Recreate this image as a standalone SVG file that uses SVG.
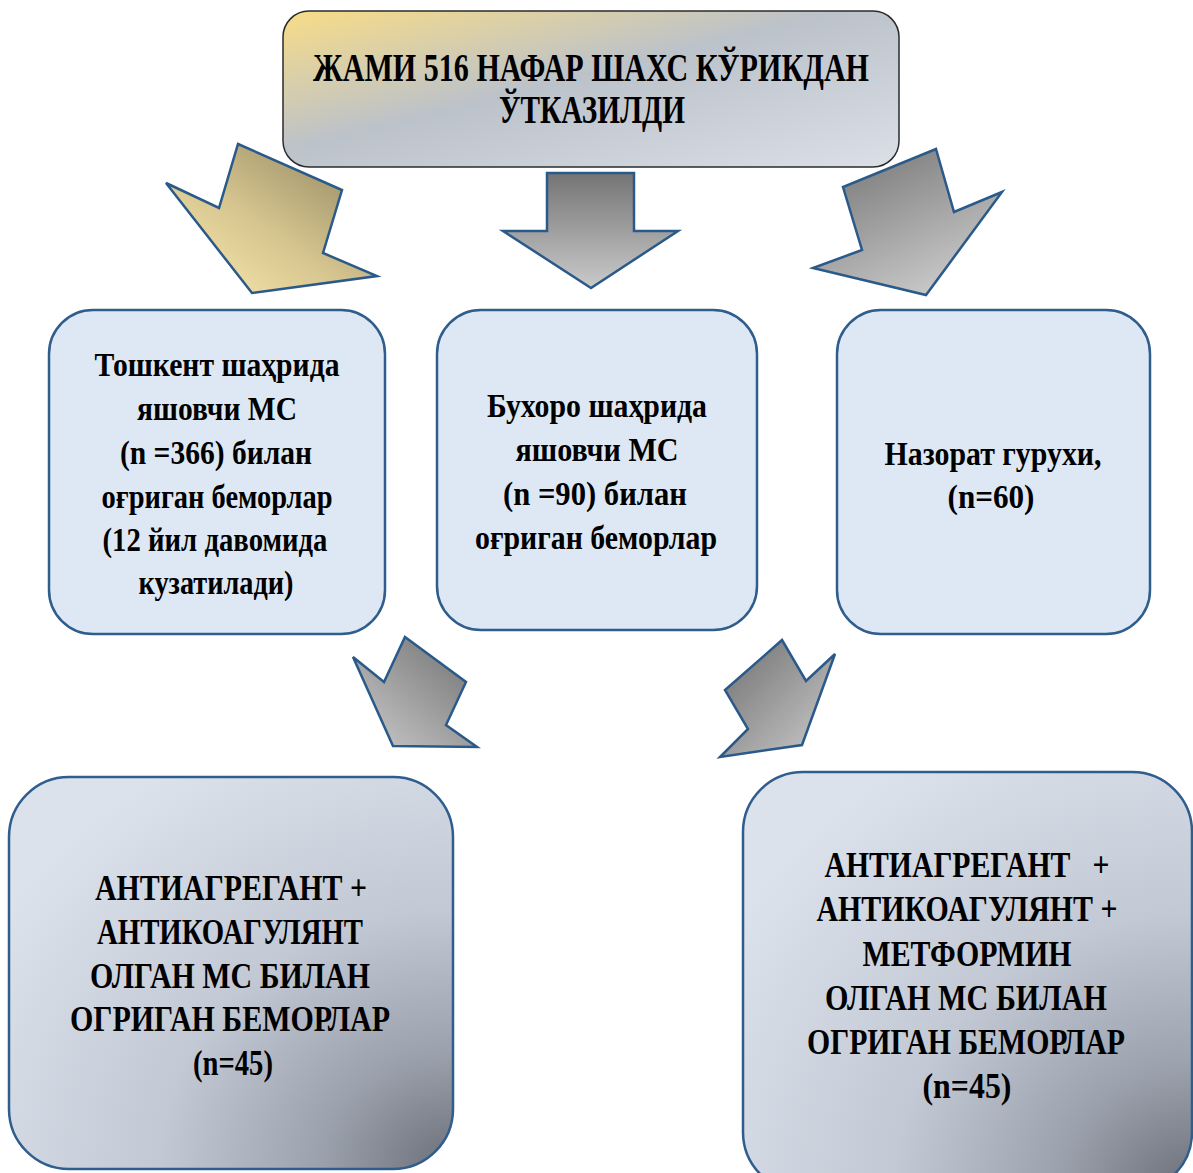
<svg xmlns="http://www.w3.org/2000/svg" width="1193" height="1173" viewBox="0 0 1193 1173">
<defs>
<linearGradient id="gTop" x1="0" y1="0" x2="1" y2="1">
<stop offset="0" stop-color="#f8dc86"/>
<stop offset="0.45" stop-color="#bcc2ca"/>
<stop offset="1" stop-color="#dbe0e8"/>
</linearGradient>
<radialGradient id="gBot" cx="1" cy="1" r="1.2" fx="1" fy="1">
<stop offset="0" stop-color="#6a6f78"/>
<stop offset="0.25" stop-color="#9ca2ad"/>
<stop offset="0.55" stop-color="#c2c9d4"/>
<stop offset="1" stop-color="#dbe2ec"/>
</radialGradient>
<linearGradient id="gYel" x1="1" y1="0" x2="0" y2="1">
<stop offset="0" stop-color="#8a7f5c"/>
<stop offset="0.55" stop-color="#d6c58f"/>
<stop offset="1" stop-color="#fdedb0"/>
</linearGradient>
<linearGradient id="gDown" x1="0" y1="0" x2="0" y2="1">
<stop offset="0" stop-color="#747474"/>
<stop offset="1" stop-color="#cacaca"/>
</linearGradient>
<linearGradient id="gR" x1="0" y1="0" x2="0.6" y2="1">
<stop offset="0" stop-color="#707070"/>
<stop offset="1" stop-color="#c8c8c8"/>
</linearGradient>
<linearGradient id="gBL" x1="1" y1="0" x2="0" y2="1">
<stop offset="0" stop-color="#6e6e6e"/>
<stop offset="1" stop-color="#cccccc"/>
</linearGradient>
<linearGradient id="gBR" x1="0" y1="0" x2="1" y2="1">
<stop offset="0" stop-color="#6e6e6e"/>
<stop offset="1" stop-color="#cccccc"/>
</linearGradient>
<style>
.t{font-family:"Liberation Serif","Times New Roman",serif;font-weight:bold;fill:#000;text-anchor:middle}
.mid{fill:#dde8f4;stroke:#2f5d8c;stroke-width:2.5}
.bot{fill:url(#gBot);stroke:#2f5d8c;stroke-width:2.5}
.arr{stroke:#2a5a8a;stroke-width:2.5;stroke-linejoin:miter}
</style>
</defs>
<rect width="1193" height="1173" fill="#fff"/>

<g id="connectors">
<polygon class="arr" fill="url(#gYel)" points="238,144 342,190 323,253 377,276 252,293 166,183 219,208"/>
<polygon class="arr" fill="url(#gDown)" points="547,173 634,173 634,231 678,231 591,288 503,231 547,231"/>
<polygon class="arr" fill="url(#gR)" points="936,149 954,212 1002,192 926,295 813,268 862,250 843,187"/>
<polygon class="arr" fill="url(#gBL)" points="405,637 466,682 446,725 477,747 393,746 353,657 384,682"/>
<polygon class="arr" fill="url(#gBR)" points="782,640 806,681 835,654 802,745 720,757 748,729 725,690"/>
</g>

<g id="node-top">
<rect x="283" y="11" width="616" height="156" rx="26" fill="url(#gTop)" stroke="#2b2b2b" stroke-width="1.5"/>
<text class="t" font-size="39" x="591" y="81" textLength="556" lengthAdjust="spacingAndGlyphs">ЖАМИ 516 НАФАР ШАХС КЎРИКДАН</text>
<text class="t" font-size="39" x="592" y="123" textLength="186" lengthAdjust="spacingAndGlyphs">ЎТКАЗИЛДИ</text>
</g>

<g id="node-tashkent">
<rect class="mid" x="49" y="310" width="336" height="324" rx="44"/>
<g class="t" font-size="34">
<text x="217" y="376" textLength="245" lengthAdjust="spacingAndGlyphs">Тошкент шаҳрида</text>
<text x="217" y="420" textLength="160" lengthAdjust="spacingAndGlyphs">яшовчи МС</text>
<text x="216" y="464" textLength="192" lengthAdjust="spacingAndGlyphs">(n =366) билан</text>
<text x="217" y="508" textLength="231" lengthAdjust="spacingAndGlyphs">оғриган беморлар</text>
<text x="215" y="551" textLength="225" lengthAdjust="spacingAndGlyphs">(12 йил давомида</text>
<text x="216" y="594" textLength="155" lengthAdjust="spacingAndGlyphs">кузатилади)</text>
</g>
</g>

<g id="node-bukhara">
<rect class="mid" x="437" y="310" width="320" height="320" rx="44"/>
<g class="t" font-size="34">
<text x="597" y="417" textLength="220" lengthAdjust="spacingAndGlyphs">Бухоро шаҳрида</text>
<text x="597" y="461" textLength="163" lengthAdjust="spacingAndGlyphs">яшовчи МС</text>
<text x="595" y="505" textLength="184" lengthAdjust="spacingAndGlyphs">(n =90) билан</text>
<text x="596" y="549" textLength="242" lengthAdjust="spacingAndGlyphs">оғриган беморлар</text>
</g>
</g>

<g id="node-control">
<rect class="mid" x="837" y="310" width="313" height="324" rx="44"/>
<g class="t" font-size="34">
<text x="993" y="465" textLength="217" lengthAdjust="spacingAndGlyphs">Назорат гурухи,</text>
<text x="991" y="508" textLength="87" lengthAdjust="spacingAndGlyphs">(n=60)</text>
</g>
</g>

<g id="node-bottom-left">
<rect class="bot" x="9" y="777" width="444" height="392" rx="60"/>
<g class="t" font-size="35">
<text x="231" y="900" textLength="272" lengthAdjust="spacingAndGlyphs">АНТИАГРЕГАНТ +</text>
<text x="230" y="944" textLength="266" lengthAdjust="spacingAndGlyphs">АНТИКОАГУЛЯНТ</text>
<text x="230" y="988" textLength="280" lengthAdjust="spacingAndGlyphs">ОЛГАН МС БИЛАН</text>
<text x="230" y="1031" textLength="320" lengthAdjust="spacingAndGlyphs">ОГРИГАН БЕМОРЛАР</text>
<text x="233" y="1075" textLength="80" lengthAdjust="spacingAndGlyphs">(n=45)</text>
</g>
</g>

<g id="node-bottom-right">
<rect class="bot" x="743" y="772" width="449" height="420" rx="60"/>
<g class="t" font-size="35">
<text x="967" y="877" textLength="285" lengthAdjust="spacingAndGlyphs" xml:space="preserve">АНТИАГРЕГАНТ   +</text>
<text x="967" y="921" textLength="301" lengthAdjust="spacingAndGlyphs">АНТИКОАГУЛЯНТ +</text>
<text x="967" y="966" textLength="209" lengthAdjust="spacingAndGlyphs">МЕТФОРМИН</text>
<text x="966" y="1010" textLength="282" lengthAdjust="spacingAndGlyphs">ОЛГАН МС БИЛАН</text>
<text x="966" y="1054" textLength="318" lengthAdjust="spacingAndGlyphs">ОГРИГАН БЕМОРЛАР</text>
<text x="967" y="1098" textLength="89" lengthAdjust="spacingAndGlyphs">(n=45)</text>
</g>
</g>
</svg>
